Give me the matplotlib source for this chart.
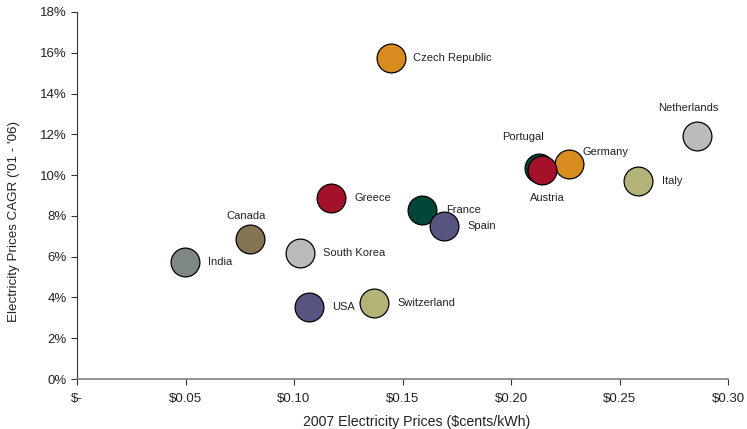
import matplotlib
matplotlib.use("Agg")
import matplotlib.pyplot as plt
from matplotlib.ticker import FuncFormatter, MultipleLocator

plt.rcParams['font.family'] = ['Liberation Sans', 'DejaVu Sans']

countries = ["Czech Republic", "Netherlands", "Portugal", "Germany", "Austria",
             "Italy", "Greece", "France", "Spain", "Canada", "South Korea",
             "India", "USA", "Switzerland"]
price_2007 = [0.1447, 0.2855, 0.2130, 0.2266, 0.2143,
              0.2585, 0.1172, 0.1590, 0.1690, 0.0797, 0.1026,
              0.0497, 0.1069, 0.1370]
cagr_pct = [15.74, 11.92, 10.36, 10.54, 10.24,
            9.70, 8.87, 8.28, 7.50, 6.86, 6.20,
            5.73, 3.52, 3.72]
colors = ["#D98C1E", "#BBBBBB", "#00473A", "#D98C1E", "#A3122A",
          "#B3B378", "#A3122A", "#00473A", "#55557F", "#847552", "#BBBBBB",
          "#7F8784", "#55557F", "#B3B378"]
# label offsets (points) and alignment per country
label_pos = {
    "Czech Republic": (16, 0, "left"),
    "Netherlands": (-6, 20, "center"),
    "Portugal": (-12, 22, "center"),
    "Germany": (10, 9, "left"),
    "Austria": (4, -20, "center"),
    "Italy": (17, 0, "left"),
    "Greece": (17, 0, "left"),
    "France": (17, 0, "left"),
    "Spain": (17, 0, "left"),
    "Canada": (-3, 17, "center"),
    "South Korea": (17, 0, "left"),
    "India": (17, 0, "left"),
    "USA": (17, 0, "left"),
    "Switzerland": (17, 0, "left"),
}

fig = plt.figure(figsize=(7.47, 4.29), dpi=100)
ax = fig.add_axes([77 / 747, 1 - 379 / 429, 651 / 747, 367 / 429])

for name, x, y, c in zip(countries, price_2007, cagr_pct, colors):
    ax.scatter(x, y, s=430, color=c, edgecolors="black", linewidths=0.9, zorder=3)
    dx, dy, ha = label_pos[name]
    ax.annotate(name, (x, y), xytext=(dx, dy), textcoords="offset points",
                ha=ha, va="center", fontsize=8, color="#222222", zorder=4)

ax.set_xlim(0, 0.30)
ax.set_ylim(0, 18)
ax.xaxis.set_major_locator(MultipleLocator(0.05))
ax.yaxis.set_major_locator(MultipleLocator(2))
ax.xaxis.set_major_formatter(FuncFormatter(lambda v, p: "$-" if abs(v) < 1e-9 else f"${v:.2f}"))
ax.yaxis.set_major_formatter(FuncFormatter(lambda v, p: f"{v:.0f}%"))

for side in ("top", "right"):
    ax.spines[side].set_visible(False)
ax.spines["left"].set_color("#333333")
ax.spines["bottom"].set_color("#808080")
ax.spines["bottom"].set_linewidth(1.2)
ax.tick_params(axis="both", direction="out", length=4, width=0.8, colors="#333333",
               labelsize=9.5, labelcolor="#222222")
ax.tick_params(axis="x", pad=6)

ax.set_xlabel("2007 Electricity Prices ($cents/kWh)", fontsize=10.2, color="#222222")
ax.set_ylabel("Electricity Prices CAGR ('01 - '06)", fontsize=9.6, color="#222222")
ax.xaxis.set_label_coords(0.521, -0.097)
ax.yaxis.set_label_coords(-0.087, 0.4305)

fig.savefig("out.png", dpi=100)
